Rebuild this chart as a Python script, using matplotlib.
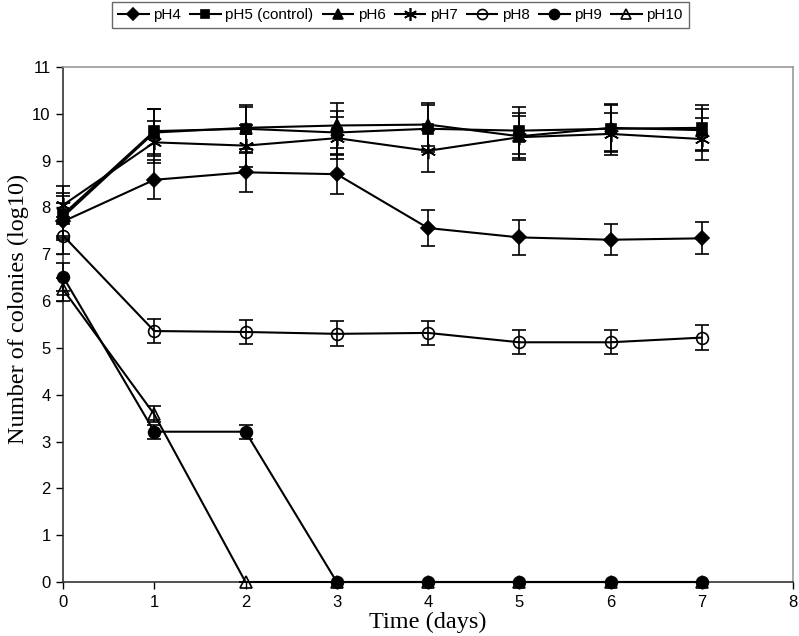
import matplotlib
matplotlib.use("Agg")
import matplotlib.pyplot as plt
import numpy as np

# Data
days = [0, 1, 2, 3, 4, 5, 6, 7]

ph4 = [7.70, 8.59, 8.75, 8.71, 7.56, 7.36, 7.31, 7.34]
ph4_err = [0.40, 0.42, 0.41, 0.42, 0.38, 0.37, 0.33, 0.34]

ph5 = [7.85, 9.63, 9.68, 9.60, 9.68, 9.64, 9.68, 9.70]
ph5_err = [0.45, 0.48, 0.50, 0.45, 0.50, 0.50, 0.50, 0.48]

ph6 = [7.80, 9.60, 9.70, 9.75, 9.77, 9.52, 9.70, 9.65]
ph6_err = [0.45, 0.50, 0.45, 0.48, 0.45, 0.50, 0.50, 0.45]

ph7 = [8.05, 9.39, 9.32, 9.48, 9.21, 9.50, 9.57, 9.46]
ph7_err = [0.40, 0.45, 0.45, 0.45, 0.45, 0.45, 0.45, 0.45]

ph8 = [7.40, 5.36, 5.34, 5.30, 5.32, 5.12, 5.12, 5.22]
ph8_err = [0.40, 0.26, 0.25, 0.27, 0.26, 0.26, 0.26, 0.26]

ph9 = [6.52, 3.21, 3.21, 0, 0, 0, 0, 0]
ph9_err = [0.30, 0.15, 0.15, 0, 0, 0, 0, 0]

ph10 = [6.25, 3.58, 0, 0, 0, 0, 0, 0]
ph10_err = [0.25, 0.17, 0, 0, 0, 0, 0, 0]

series = [
    ("pH4", ph4, ph4_err, "D", "k", 7),
    ("pH5 (control)", ph5, ph5_err, "s", "k", 7),
    ("pH6", ph6, ph6_err, "^", "k", 8),
    ("pH7", ph7, ph7_err, (6, 2, 0), "k", 11),
    ("pH8", ph8, ph8_err, "o", "none", 8.5),
    ("pH9", ph9, ph9_err, "o", "k", 8.5),
    ("pH10", ph10, ph10_err, "^", "none", 8),
]

fig = plt.figure(figsize=(7.99, 6.36), dpi=100)
ax = fig.add_axes([0.0789, 0.0849, 0.9136, 0.8098])

handles = []
labels = []
for name, vals, err, mk, fc, ms in series:
    h = ax.errorbar(days, vals, yerr=err, color="black", lw=1.5,
                    marker=mk, markersize=ms, markerfacecolor=fc,
                    markeredgecolor="black", markeredgewidth=1.2,
                    ecolor="black", elinewidth=1.2, capsize=5, capthick=1.2,
                    clip_on=False, zorder=3)
    handles.append(h.lines[0])
    labels.append(name)

ax.set_xlim(0, 8)
ax.set_ylim(0, 11)
ax.set_xticks(range(0, 9))
ax.set_yticks(range(0, 12))

for s in ["top", "right"]:
    ax.spines[s].set_color("#999999")
    ax.spines[s].set_linewidth(1.2)
for s in ["left", "bottom"]:
    ax.spines[s].set_color("#333333")
    ax.spines[s].set_linewidth(1.2)

ax.tick_params(direction="out", length=5, width=1, labelsize=12, pad=4)
for lab in ax.get_xticklabels() + ax.get_yticklabels():
    lab.set_fontfamily("Liberation Sans")

ax.set_xlabel("Time (days)", fontfamily="Liberation Serif", fontsize=17.5, labelpad=2)
ax.set_ylabel("Number of colonies (log10)", fontfamily="Liberation Serif", fontsize=17.5)
ax.yaxis.set_label_coords(-0.046, 0.53)

leg = fig.legend(handles, labels, loc="upper left", bbox_to_anchor=(0.140, 0.997),
                 ncol=7, frameon=True, fancybox=False, edgecolor="#444444",
                 prop={"family": "Liberation Sans", "size": 11},
                 handlelength=2.0, handletextpad=0.3, columnspacing=0.6,
                 borderpad=0.4, borderaxespad=0, markerscale=0.85)
leg.get_frame().set_linewidth(1.0)

fig.savefig("out.png", dpi=100)
